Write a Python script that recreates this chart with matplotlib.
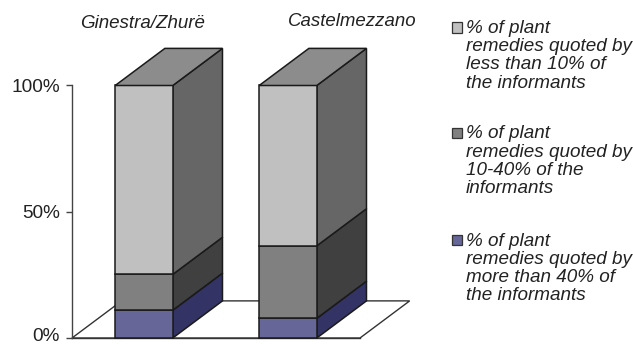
import matplotlib
matplotlib.use("Agg")
import matplotlib.pyplot as plt
from matplotlib.patches import Polygon

plt.rcParams['font.family'] = ['Liberation Sans', 'DejaVu Sans']

sites = ["Ginestra/Zhurë", "Castelmezzano"]
more_than_40 = [11.0, 7.8]
between_10_40 = [14.2, 28.7]
less_than_10 = [74.8, 63.5]
y_ticks = [0, 50, 100]
y_tick_labels = ["0%", "50%", "100%"]
y_label_drop = [2.0, 4.5, 4.5]
legend_labels = [
    "% of plant\nremedies quoted by\nless than 10% of\nthe informants",
    "% of plant\nremedies quoted by\n10-40% of the\ninformants",
    "% of plant\nremedies quoted by\nmore than 40% of\nthe informants",
]

W, H = 633, 345
fig = plt.figure(figsize=(W / 100, H / 100), dpi=100)
ax = fig.add_axes([72 / W, 1 - 338 / H, 288 / W, 252.5 / H])
ax.set_xlim(-0.5, 1.5)
ax.set_ylim(0, 100)
ax.patch.set_visible(False)
for side in ("top", "right", "bottom"):
    ax.spines[side].set_visible(False)
ax.spines["left"].set_color("#444444")
ax.spines["left"].set_linewidth(1.0)
ax.set_xticks([])
ax.set_yticks(y_ticks)
ax.set_yticklabels([])
ax.tick_params(axis="y", length=4.3, width=1.0, color="#444444")
# tick labels are offset from their ticks; the lowest is raised to stay on the canvas
for value, label, drop in zip(y_ticks, y_tick_labels, y_label_drop):
    ax.annotate(label, xy=(0, value), xycoords=("axes fraction", "data"),
                xytext=(-8.6, -drop), textcoords="offset points",
                ha="right", va="baseline", fontsize=13.7, color="#222222")

# oblique projection used for the box depth, in data units
DX, DY = 0.345, 14.7
BAR = 0.4
EDGE = "#1a1a1a"

# floor of the chart
floor = Polygon([(-0.5, 0), (-0.5 + DX, DY), (1.5 + DX, DY), (1.5, 0)], closed=True,
                fc="white", ec="#333333", lw=1.0, clip_on=False, zorder=1)
ax.add_patch(floor)

layers = [
    (more_than_40, "#666699", "#333366"),
    (between_10_40, "#808080", "#404040"),
    (less_than_10, "#c0c0c0", "#666666"),
]

for i in range(len(sites)):
    x0, x1 = i - BAR / 2, i + BAR / 2
    base = 0.0
    for values, front, side in layers:
        top = base + values[i]
        ax.add_patch(Polygon([(x1, base), (x1 + DX, base + DY), (x1 + DX, top + DY), (x1, top)],
                             closed=True, fc=side, ec=EDGE, lw=1.1, clip_on=False, zorder=3))
        ax.add_patch(Polygon([(x0, base), (x1, base), (x1, top), (x0, top)],
                             closed=True, fc=front, ec=EDGE, lw=1.1, clip_on=False, zorder=4))
        base = top
    ax.add_patch(Polygon([(x0, base), (x1, base), (x1 + DX, base + DY), (x0 + DX, base + DY)],
                         closed=True, fc="#8c8c8c", ec=EDGE, lw=1.1, clip_on=False, zorder=4))

# front edge of the floor runs in front of the boxes' base
ax.plot([-0.5, 1.5], [0, 0], color="#333333", lw=1.0, clip_on=False, zorder=2)

# site names above the boxes
fig.text(142.5 / W, 1 - 23 / H, sites[0], fontsize=13.5, style="italic", color="#222222",
         ha="center", va="center")
fig.text(352 / W, 1 - 21 / H, sites[1], fontsize=13.4, style="italic", color="#222222",
         ha="center", va="center")

# hand-placed legend: swatch plus four-line label
swatch_y = [27.5, 132.5, 240]
swatch_colors = ["#c0c0c0", "#808080", "#666699"]
text_top = [20, 125.5, 232.5]
for sy, color, ty, label in zip(swatch_y, swatch_colors, text_top, legend_labels):
    fig.add_artist(plt.Rectangle((451.5 / W, 1 - (sy + 5) / H), 10 / W, 10 / H,
                                 transform=fig.transFigure, fc=color, ec="#333333", lw=0.9))
    fig.text(466 / W, 1 - ty / H, label, fontsize=13.6, style="italic", color="#222222",
             ha="left", va="top", linespacing=1.09)

fig.savefig("out.png", dpi=100)
